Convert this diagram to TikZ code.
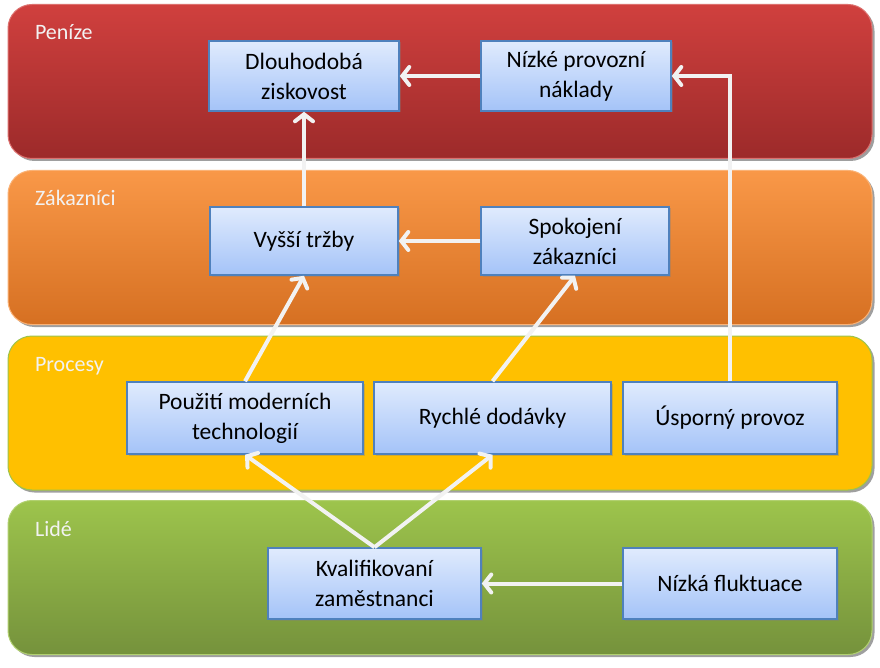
\documentclass[tikz,border=0pt]{standalone}
\usepackage{fontspec}
\setmainfont{Carlito}
\usepackage{tikz}
\newcommand{\bandwidth}{864pt}
\newcommand{\bandheight}{154pt}
\newcommand{\boxheight}{70pt}
\usetikzlibrary{arrows.meta,shadows}
\definecolor{boxtop}{RGB}{224,235,253}
\definecolor{boxbottom}{RGB}{164,195,248}
\definecolor{boxline}{RGB}{79,129,189}
\definecolor{redtop}{RGB}{208,64,62}
\definecolor{redbottom}{RGB}{156,42,42}
\definecolor{orangetop}{RGB}{249,152,72}
\definecolor{orangebottom}{RGB}{214,112,34}
\definecolor{yellowfill}{RGB}{255,192,0}
\definecolor{greentop}{RGB}{157,196,76}
\definecolor{greenbottom}{RGB}{117,146,60}
\definecolor{arrowwhite}{RGB}{242,242,242}
\tikzset{
  >={Straight Barb[length=7pt,width=18pt,line cap=round]},
  font=\fontsize{23.5}{30}\selectfont,
  band/.style={draw,line width=1pt,rounded corners=24pt,minimum width=\bandwidth,minimum height=\bandheight,drop shadow={shadow xshift=2.5pt,shadow yshift=-2.5pt,opacity=0.75}},
  bandlabel/.style={anchor=base west,text=arrowwhite,font=\fontsize{22}{26}\selectfont},
  goal/.style={draw=boxline,line width=1.5pt,top color=boxtop,bottom color=boxbottom,minimum height=\boxheight,align=center,inner sep=2pt,drop shadow={shadow xshift=1.5pt,shadow yshift=-1.5pt,opacity=0.35}},
  link/.style={draw=arrowwhite,->,line width=4pt}
}
\begin{document}
\begin{tikzpicture}[x=1pt,y=-1pt]
    \fill[white] (0,0) rectangle (880,668);
    \useasboundingbox (0,0) rectangle (880,668);

    % perspective bands
    \node (penize) [band,draw=redtop!75!white,top color=redtop,bottom color=redbottom] at (440,81.5) {};
    \node (zakaznici) [band,draw=orangetop!75!white,top color=orangetop,bottom color=orangebottom] at (440,247.5) {};
    \node (procesy) [band,draw=greentop,fill=yellowfill] at (440,413) {};
    \node (lide) [band,draw=greentop!80!white,top color=greentop,bottom color=greenbottom] at (440,577.5) {};

    \node [bandlabel] at ([xshift=24pt,yshift=-36pt]penize.north west) {Peníze};
    \node [bandlabel] at ([xshift=24pt,yshift=-36pt]zakaznici.north west) {Zákazníci};
    \node [bandlabel] at ([xshift=24pt,yshift=-36pt]procesy.north west) {Procesy};
    \node [bandlabel] at ([xshift=24pt,yshift=-36pt]lide.north west) {Lidé};

    % goals
    \node (ziskovost) [goal,minimum width=190pt] at (304,76) {Dlouhodobá\\ziskovost};
    \node (naklady) [goal,minimum width=190pt] at (576,76) {Nízké provozní\\náklady};
    \node (trzby) [goal,minimum width=188pt,minimum height=68pt] at (304,241) {Vyšší tržby};
    \node (spokojeni) [goal,minimum width=188pt,minimum height=68pt] at (575,241) {Spokojení\\zákazníci};
    \node (technologie) [goal,minimum width=236pt,minimum height=72pt] at (245,418) {Použití moderních\\technologií};
    \node (dodavky) [goal,minimum width=237pt,minimum height=72pt] at (492.5,418) {Rychlé dodávky};
    \node (provoz) [goal,minimum width=214pt,minimum height=72pt] at (730,418) {Úsporný provoz};
    \node (zamestnanci) [goal,minimum width=213pt,minimum height=71pt] at (374.5,583.5) {Kvalifikovaní\\zaměstnanci};
    \node (fluktuace) [goal,minimum width=214pt,minimum height=71pt] at (730,583.5) {Nízká fluktuace};

    \path [link] (naklady) -- (ziskovost);
    \path [link] (trzby) -- (ziskovost);
    \path [link] (provoz.north) |- (naklady);
    \path [link] (spokojeni) -- (trzby);
    \path [link] (technologie.north) -- (trzby.south);
    \path [link] (dodavky.north) -- (spokojeni.south);
    \path [link] (zamestnanci.north) -- (technologie.south);
    \path [link] (zamestnanci.north) -- (dodavky.south);
    \path [link] (fluktuace) -- (zamestnanci);
\end{tikzpicture}
\end{document}
